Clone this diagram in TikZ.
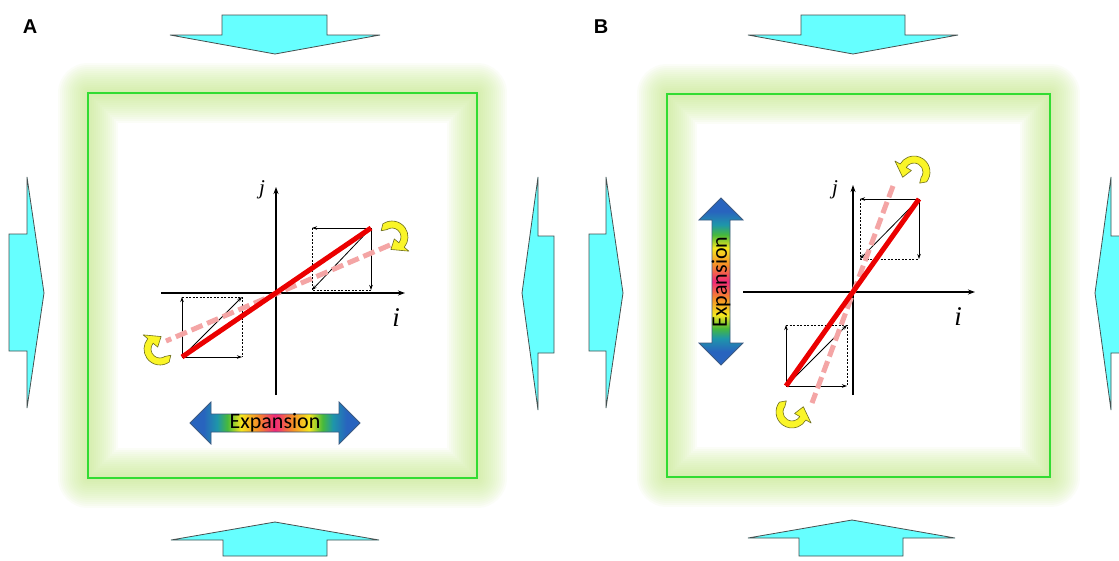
\documentclass[tikz,border=0pt]{standalone}
\usepackage{fontspec}
\setmainfont{Liberation Serif}
\newfontfamily\carl{Carlito}
\newfontfamily\arialf{Liberation Sans}
\usetikzlibrary{arrows.meta,calc}

\definecolor{cyanfill}{RGB}{102,255,255}
\definecolor{cyanedge}{RGB}{70,80,80}
\definecolor{glowc}{RGB}{200,236,140}
\definecolor{boxgreen}{RGB}{50,220,50}
\definecolor{redline}{RGB}{235,0,0}
\definecolor{pinkline}{RGB}{244,165,165}
\definecolor{curlfill}{RGB}{250,245,40}
\definecolor{curldraw}{RGB}{110,110,30}
\definecolor{arrowedge}{RGB}{60,90,130}
\definecolor{rbblue}{RGB}{40,100,190}
\definecolor{rbteal}{RGB}{30,150,170}
\definecolor{rbgreen}{RGB}{70,185,60}
\definecolor{rbyellow}{RGB}{245,230,30}
\definecolor{rborange}{RGB}{245,140,40}
\definecolor{rbpink}{RGB}{240,40,120}

\pgfdeclarehorizontalshading{rainbowh}{100bp}{color(0bp)=(rbblue); color(25bp)=(rbblue); color(29bp)=(rbblue); color(33bp)=(rbteal); color(36bp)=(rbgreen); color(40bp)=(rbyellow); color(45bp)=(rborange); color(50bp)=(rbpink); color(55bp)=(rborange); color(60bp)=(rbyellow); color(64bp)=(rbgreen); color(67bp)=(rbteal); color(71bp)=(rbblue); color(75bp)=(rbblue); color(100bp)=(rbblue)}
\pgfdeclareverticalshading{rainbowv}{100bp}{color(0bp)=(rbblue); color(25bp)=(rbblue); color(29bp)=(rbblue); color(33bp)=(rbteal); color(36bp)=(rbgreen); color(40bp)=(rbyellow); color(45bp)=(rborange); color(50bp)=(rbpink); color(55bp)=(rborange); color(60bp)=(rbyellow); color(64bp)=(rbgreen); color(67bp)=(rbteal); color(71bp)=(rbblue); color(75bp)=(rbblue); color(100bp)=(rbblue)}

\tikzset{
  cyanarrow/.style={fill=cyanfill, draw=cyanedge, line width=0.8pt, line join=miter},
  greenbox/.style={draw=boxgreen, line width=2pt},
  axisline/.style={line width=1.2pt, -{Stealth[length=7pt,width=5pt]}},
  vecarrow/.style={line width=0.8pt, -{Stealth[length=5pt,width=3.5pt]}},
  dashedge/.style={line width=0.6pt, dash pattern=on 2pt off 1.5pt},
  redvec/.style={draw=redline, line width=5pt},
  pinkvec/.style={draw=pinkline, line width=5pt, dash pattern=on 12pt off 5pt},
  curlstyle/.style={fill=curlfill, draw=curldraw, line width=0.6pt, line join=round},
  expandarrow/.style={draw=arrowedge, line width=0.8pt},
  expandtext/.style={font=\carl\fontsize{22}{22}\selectfont, inner sep=0pt},
  paneltag/.style={font=\arialf\bfseries\fontsize{20}{20}\selectfont, inner sep=0pt},
  jlabel/.style={font=\itshape\fontsize{21}{21}\selectfont, inner sep=0pt},
  ilabel/.style={font=\itshape\fontsize{27}{27}\selectfont, inner sep=0pt}
}

\newcommand\curlarrow[4]{%
  \pgfmathsetmacro\cdir{ifthenelse(#4>#3,1,-1)}%
  \pgfmathsetmacro\cst{#3+\cdir*25}%
  \pgfmathsetmacro\ctip{#4+\cdir*55}%
  \filldraw[curlstyle] ($(#1,#2)+(#3:12.5)$) -- ($(#1,#2)+(\cst:16)$)
    arc[start angle=\cst, end angle=#4, radius=16]
    -- ($(#1,#2)+(#4:22)$) -- ($(#1,#2)+(\ctip:12.5)$) -- ($(#1,#2)+(#4:3)$)
    -- ($(#1,#2)+(#4:9)$) arc[start angle=#4, end angle=\cst, radius=9] -- cycle;
}

\newcommand\glowbox[4]{%
  \foreach \w in {4,8,...,60} {
    \draw[glowc, line width=\w pt, opacity=0.065, line join=round] (#1,#2) rectangle (#3,#4);
  }
  \draw[greenbox] (#1,#2) rectangle (#3,#4);
}

\begin{document}
\begin{tikzpicture}[x=1pt,y=-1pt]
\useasboundingbox (0,0) rectangle (1119,560);
\fill[white] (0,0) rectangle (1119,560);

% ---------- Panel tags
\node[paneltag] (tagA) at (30,27) {A};
\node[paneltag] (tagB) at (601,27) {B};

% ---------- glow boxes
\glowbox{88}{93}{477}{478}
\glowbox{667}{94}{1050}{477}

% ---------- cyan compression arrows, panel A
\filldraw[cyanarrow] (222,15) -- (327,15) -- (327,35) -- (380,35) -- (275,54) -- (170,35) -- (222,35) -- cycle;
\filldraw[cyanarrow] (223,556) -- (327,556) -- (327,540) -- (379,540) -- (275,522) -- (171,540) -- (223,540) -- cycle;
\filldraw[cyanarrow] (9,234) -- (27,234) -- (27,177) -- (44,293) -- (27,408) -- (27,351) -- (9,351) -- cycle;
\filldraw[cyanarrow] (554,236) -- (538,236) -- (538,177) -- (522,293) -- (538,410) -- (538,353) -- (554,353) -- cycle;
% ---------- cyan compression arrows, panel B
\filldraw[cyanarrow] (801,15) -- (905,15) -- (905,35) -- (958,35) -- (853,54) -- (748,35) -- (801,35) -- cycle;
\filldraw[cyanarrow] (799,556) -- (903,556) -- (903,538) -- (955,538) -- (852,520) -- (748,538) -- (799,538) -- cycle;
\filldraw[cyanarrow] (589,234) -- (606,234) -- (606,177) -- (623,293) -- (606,408) -- (606,351) -- (589,351) -- cycle;
\filldraw[cyanarrow] (1130,236) -- (1111,236) -- (1111,177) -- (1095,293) -- (1111,410) -- (1111,353) -- (1130,353) -- cycle;

% ================= Panel A diagram
\coordinate (OA) at (276,293);
\coordinate (AxL) at (161,293);
\coordinate (AxR) at (405,293);
\coordinate (AyB) at (276,395);
\coordinate (AyT) at (276,187);
\coordinate (AP1) at (371,228);
\coordinate (AP2) at (182,357);
\coordinate (AQ1) at (312,228);
\coordinate (AQ2) at (371,290);
\coordinate (AQ3) at (312,290);
\coordinate (AR1) at (182,297);
\coordinate (AR2) at (242,357);
\coordinate (AR3) at (242,297);
\coordinate (AK1) at (390,245);
\coordinate (AK2) at (166,341);

\draw[dashedge] (AQ1) -- (AQ3) -- (AQ2);
\draw[dashedge] (AR1) -- (AR3) -- (AR2);
\draw[vecarrow] (AP1) -- (AQ1);
\draw[vecarrow] (AP1) -- (AQ2);
\draw[vecarrow] (AP1) -- (AQ3);
\draw[vecarrow] (AP2) -- (AR1);
\draw[vecarrow] (AP2) -- (AR2);
\draw[vecarrow] (AP2) -- (AR3);
\draw[axisline] (AxL) -- (AxR);
\draw[axisline] (AyB) -- (AyT);
\draw[pinkvec] (AK1) -- (AK2);
\draw[redvec] (AP1) -- (AP2);
\node[jlabel] (jA) at (262,190) {j};
\node[ilabel] (iA) at (396,318) {i};

\curlarrow{392}{237}{-150}{40}
\curlarrow{160}{349}{30}{220}

% expansion double arrow A
\shadedraw[shading=rainbowh, expandarrow] (190,423) -- (211,402) -- (211,414) -- (339,414) -- (339,402) -- (360,423) -- (339,444) -- (339,432) -- (211,432) -- (211,444) -- cycle;
\node[expandtext] (expA) at (275,423) {Expansion};

% ================= Panel B diagram
\coordinate (OB) at (853,292);
\coordinate (BxL) at (743,292);
\coordinate (BxR) at (975,292);
\coordinate (ByB) at (853,395);
\coordinate (ByT) at (853,185);
\coordinate (BP1) at (919,199);
\coordinate (BP2) at (786,386);
\coordinate (BQ1) at (860,199);
\coordinate (BQ2) at (919,259);
\coordinate (BQ3) at (860,259);
\coordinate (BR1) at (786,325);
\coordinate (BR2) at (847,386);
\coordinate (BR3) at (847,325);
\coordinate (BK1) at (893,186);
\coordinate (BK2) at (812,403);

\draw[dashedge] (BQ1) -- (BQ3) -- (BQ2);
\draw[dashedge] (BR1) -- (BR3) -- (BR2);
\draw[vecarrow] (BP1) -- (BQ1);
\draw[vecarrow] (BP1) -- (BQ2);
\draw[vecarrow] (BP1) -- (BQ3);
\draw[vecarrow] (BP2) -- (BR1);
\draw[vecarrow] (BP2) -- (BR2);
\draw[vecarrow] (BP2) -- (BR3);
\draw[axisline] (BxL) -- (BxR);
\draw[axisline] (ByB) -- (ByT);
\draw[pinkvec] (BK1) -- (BK2);
\draw[redvec] (BP1) -- (BP2);
\node[jlabel] (jB) at (835,190) {j};
\node[ilabel] (iB) at (958,317) {i};

\curlarrow{914}{172}{63}{-150}
\curlarrow{792}{412}{243}{30}

% expansion double arrow B
\shadedraw[shading=rainbowv, expandarrow] (721,198) -- (743,220) -- (730,220) -- (730,343) -- (743,343) -- (721,365) -- (699,343) -- (712,343) -- (712,220) -- (699,220) -- cycle;
\node[expandtext, rotate=90] (expB) at (721,282) {Expansion};

\end{tikzpicture}
\end{document}
